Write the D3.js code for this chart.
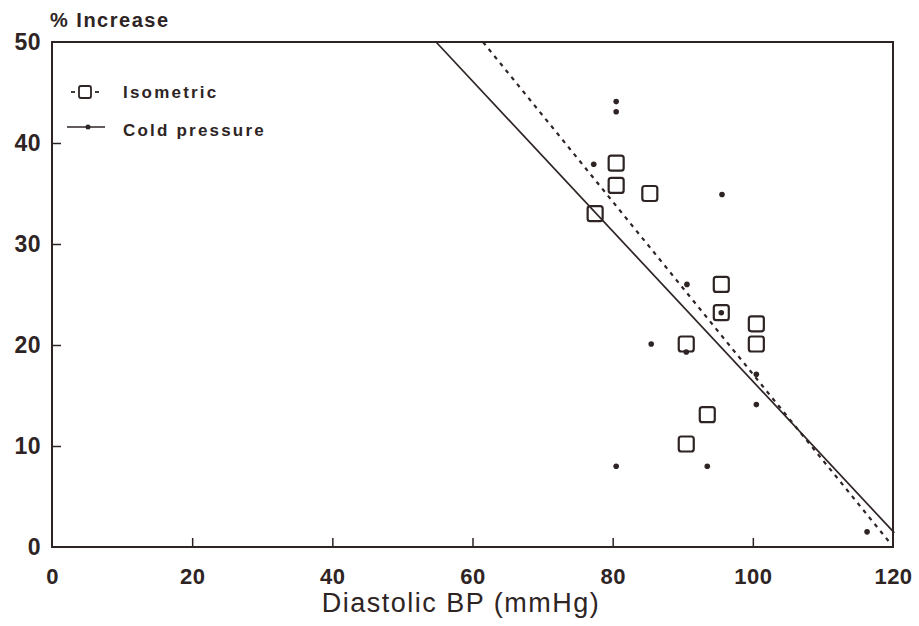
<!DOCTYPE html>
<html><head><meta charset="utf-8">
<script src="https://cdn.jsdelivr.net/npm/d3@7"></script>
<style>html,body{margin:0;padding:0;background:#fff;}</style>
</head><body>
<svg id="chart" width="919" height="626"></svg>
<script>
// ---- data ----
const xTicks = [0, 20, 40, 60, 80, 100, 120];
const yTicks = [0, 10, 20, 30, 40, 50];
const isoX = [77.5, 80.5, 80.5, 85.3, 90.5, 90.5, 93.5, 95.5, 95.5, 100.5, 100.5];
const isoY = [33, 38, 35.8, 35, 20.1, 10.2, 13.1, 26, 23.2, 22.1, 20.1];
const coldX = [80.5, 80.5, 77.3, 95.6, 90.6, 95.5, 85.5, 90.5, 100.5, 100.5, 80.5, 93.5, 116.3];
const coldY = [44.1, 43.1, 37.9, 34.9, 26, 23.2, 20.1, 19.3, 17.1, 14.1, 8, 8, 1.5];
const isoLineX = [61.5, 119.7];
const isoLineY = [50, 0.3];
const coldLineX = [54.8, 120.2];
const coldLineY = [50, 1.4];
const legendLabels = ["Isometric", "Cold pressure"];

const ink = "#2e2424";
const FONT = "Liberation Sans, Arial, sans-serif";
const svg = d3.select("#chart");
const L = 52, R = 893, T = 42, B = 547;
const x = d3.scaleLinear().domain([0, 120]).range([L, R]);
const y = d3.scaleLinear().domain([0, 50]).range([B, T]);

// frame
svg.append("rect").attr("x", L).attr("y", T).attr("width", R - L).attr("height", B - T)
  .attr("fill", "none").attr("stroke", ink).attr("stroke-width", 2);

// axes (inward ticks)
const xAxis = d3.axisBottom(x).tickValues(xTicks).tickSize(-9).tickPadding(21).tickFormat(d3.format("d"));
const gx = svg.append("g").attr("transform", `translate(0,${B})`).call(xAxis);
gx.select(".domain").remove();
gx.selectAll(".tick line").attr("stroke", ink).attr("stroke-width", 1.5)
  .filter(d => d === 0 || d === 120).remove();
gx.selectAll(".tick text").attr("fill", ink).attr("font-family", FONT)
  .attr("font-weight", "bold").attr("font-size", 22).attr("letter-spacing", 0.5);

const yAxis = d3.axisLeft(y).tickValues(yTicks).tickSize(-9).tickPadding(11).tickFormat(d3.format("d"));
const gy = svg.append("g").attr("transform", `translate(${L},0)`).call(yAxis);
gy.select(".domain").remove();
gy.selectAll(".tick line").attr("stroke", ink).attr("stroke-width", 1.5)
  .filter(d => d === 0 || d === 50).remove();
gy.selectAll(".tick text").attr("fill", ink).attr("font-family", FONT)
  .attr("font-weight", "bold").attr("font-size", 23).attr("letter-spacing", 0.5);

// titles
svg.append("text").attr("x", 50).attr("y", 27).text("% Increase")
  .attr("fill", ink).attr("font-family", FONT)
  .attr("font-weight", "bold").attr("font-size", 20).attr("letter-spacing", 1.5);
svg.append("text").attr("x", 461).attr("y", 612).attr("text-anchor", "middle").text("Diastolic BP (mmHg)")
  .attr("fill", ink).attr("font-family", FONT)
  .attr("font-size", 27).attr("letter-spacing", 1.5);

// regression lines
const line = d3.line().x(d => x(d[0])).y(d => y(d[1]));
svg.append("path").datum(isoLineX.map((v, i) => [v, isoLineY[i]])).attr("d", line)
  .attr("fill", "none").attr("stroke", ink).attr("stroke-width", 2.2).attr("stroke-dasharray", "4,5");
svg.append("path").datum(coldLineX.map((v, i) => [v, coldLineY[i]])).attr("d", line)
  .attr("fill", "none").attr("stroke", ink).attr("stroke-width", 1.7);

// points
const sq = 15;
svg.append("g").selectAll("rect").data(isoX.map((v, i) => [v, isoY[i]])).join("rect")
  .attr("x", d => x(d[0]) - sq / 2).attr("y", d => y(d[1]) - sq / 2)
  .attr("width", sq).attr("height", sq).attr("rx", 2.5)
  .attr("fill", "none").attr("stroke", ink).attr("stroke-width", 2.2);
svg.append("g").selectAll("circle").data(coldX.map((v, i) => [v, coldY[i]])).join("circle")
  .attr("cx", d => x(d[0])).attr("cy", d => y(d[1])).attr("r", 2.8).attr("fill", ink);

// legend
const lg = svg.append("g");
lg.append("line").attr("x1", 71).attr("x2", 75).attr("y1", 92).attr("y2", 92)
  .attr("stroke", ink).attr("stroke-width", 1.8);
lg.append("line").attr("x1", 95).attr("x2", 99).attr("y1", 92).attr("y2", 92)
  .attr("stroke", ink).attr("stroke-width", 1.8);
lg.append("rect").attr("x", 79).attr("y", 86).attr("width", 12).attr("height", 12).attr("rx", 2)
  .attr("fill", "none").attr("stroke", ink).attr("stroke-width", 1.8);
lg.append("line").attr("x1", 67).attr("x2", 105).attr("y1", 127).attr("y2", 127)
  .attr("stroke", ink).attr("stroke-width", 1.6);
lg.append("circle").attr("cx", 88).attr("cy", 127).attr("r", 2.5).attr("fill", ink);
lg.selectAll("text").data(legendLabels).join("text")
  .attr("x", 123).attr("y", (d, i) => 98 + i * 38).text(d => d)
  .attr("fill", ink).attr("font-family", FONT)
  .attr("font-weight", "bold").attr("font-size", 17).attr("letter-spacing", 2.2);
</script>
</body></html>
